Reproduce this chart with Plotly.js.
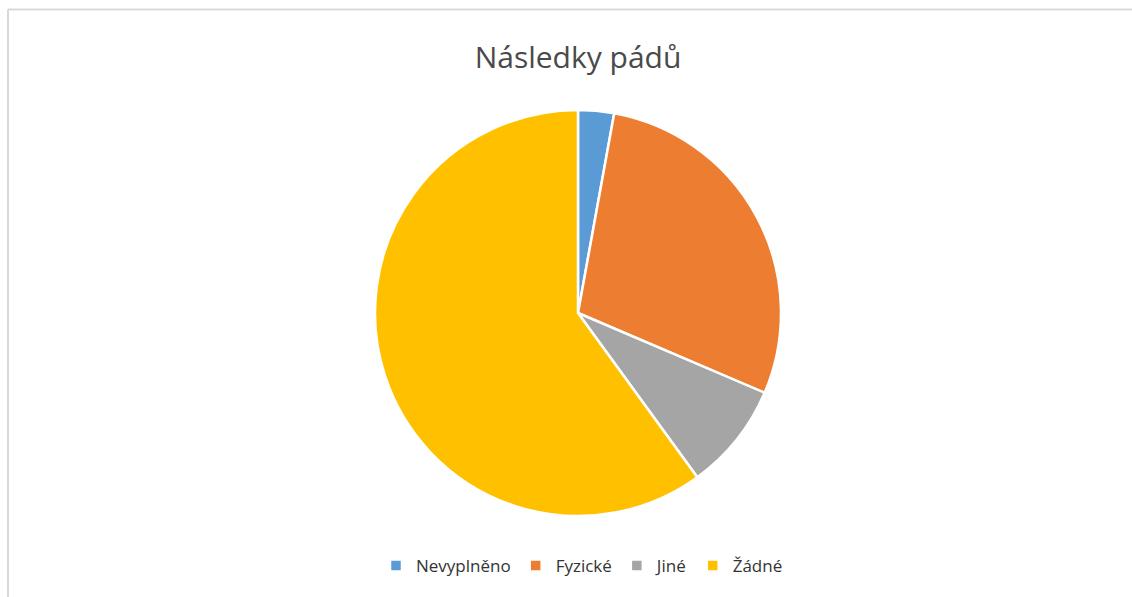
<!DOCTYPE html>
<html>
<head>
<meta charset="utf-8">
<script src="https://cdn.plot.ly/plotly-3.0.1.min.js"></script>
<style>
html,body{margin:0;padding:0;background:#fff;}
#chart{width:1132px;height:597px;}
</style>
</head>
<body>
<div id="chart"></div>
<script>
const categories = ["Nevyplněno", "Fyzické", "Jiné", "Žádné"];
const values = [1, 10, 3, 21];
const colors = ["#5B9BD5", "#ED7D31", "#A5A5A5", "#FFC000"];
const chartTitle = "Následky pádů";

const W = 1132, H = 597;
const cx = 578, cy = 313, r = 203;

const trace = {
  type: "pie",
  labels: categories,
  values: values,
  sort: false,
  direction: "clockwise",
  rotation: 0,
  textinfo: "none",
  hoverinfo: "label+value+percent",
  marker: { colors: colors, line: { color: "#ffffff", width: 2.5 } },
  domain: {
    x: [(cx - r) / W, (cx + r) / W],
    y: [(H - cy - r) / H, (H - cy + r) / H]
  },
  showlegend: true
};

const layout = {
  width: W, height: H,
  margin: { l: 0, r: 0, t: 0, b: 0 },
  paper_bgcolor: "#ffffff",
  title: {
    text: chartTitle,
    font: { family: "Open Sans, sans-serif", size: 30, color: "#4a4a4a" },
    x: cx / W, xanchor: "center", xref: "paper",
    y: 1 - 57 / H, yanchor: "middle", yref: "paper"
  },
  legend: {
    orientation: "h",
    x: 582 / W, xanchor: "center",
    y: 1 - 566 / H, yanchor: "middle",
    font: { family: "Open Sans, sans-serif", size: 17, color: "#333333" },
    itemwidth: 30,
    traceorder: "normal"
  },
  shapes: [
    { type: "line", xref: "paper", yref: "paper", x0: 8 / W, x1: 1, y0: 1 - 9.5 / H, y1: 1 - 9.5 / H, line: { color: "#D9D9D9", width: 2 } },
    { type: "line", xref: "paper", yref: "paper", x0: 8 / W, x1: 8 / W, y0: 0, y1: 1 - 9.5 / H, line: { color: "#D9D9D9", width: 2 } }
  ]
};

Plotly.newPlot("chart", [trace], layout, { displayModeBar: false, staticPlot: true });
</script>
</body>
</html>
